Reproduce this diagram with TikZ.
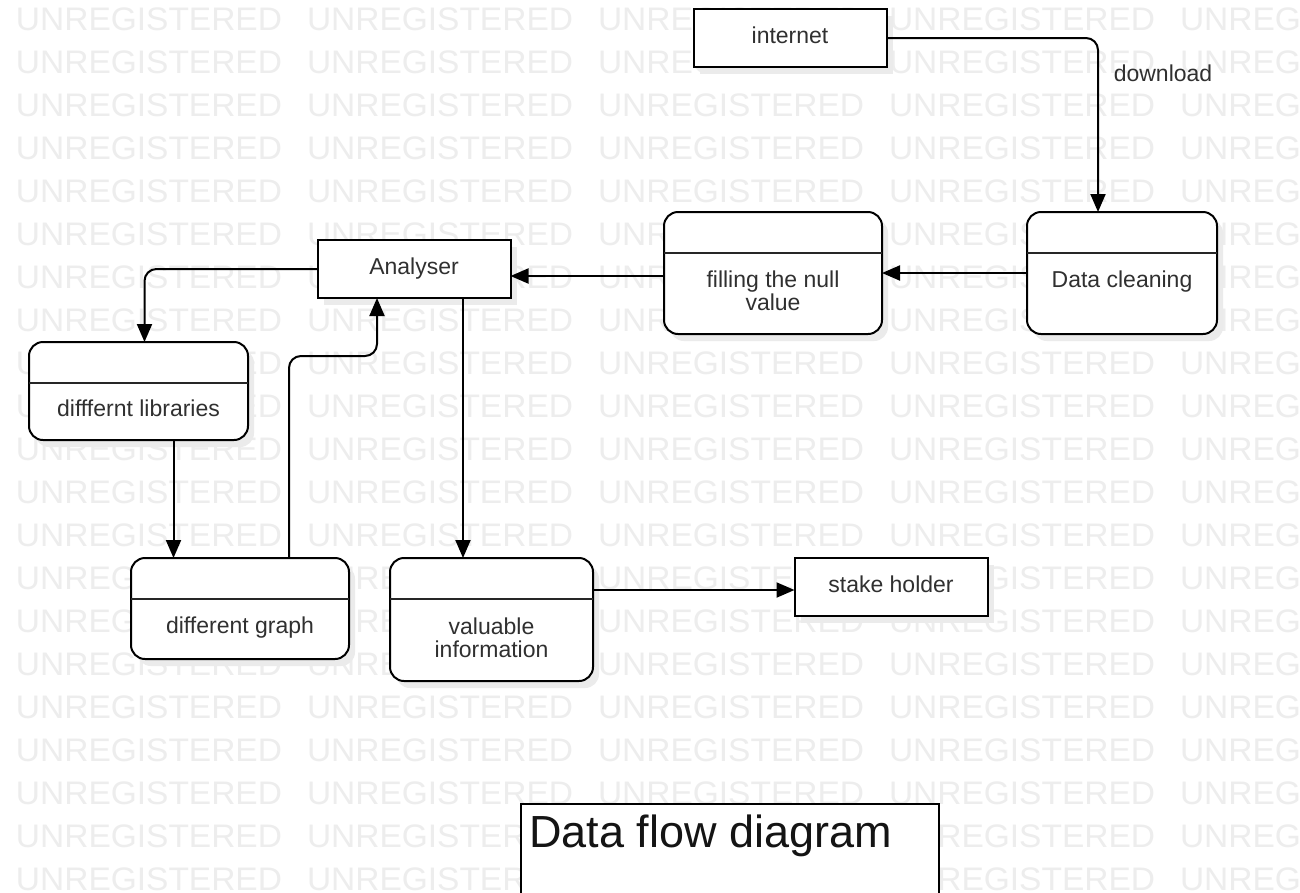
\documentclass[tikz,border=0pt]{standalone}
\usepackage{fontspec}
\setmainfont{Liberation Sans}
\usetikzlibrary{arrows.meta,shadows}
\definecolor{wm}{HTML}{EDEDED}
\definecolor{txt}{HTML}{303030}
\tikzset{
  every node/.style={inner sep=0pt, outer sep=0pt},
  boxline/.style={draw=black, line width=2pt, fill=white},
  shade/.style={drop shadow={shadow xshift=6pt, shadow yshift=-7pt, fill=black!8, opacity=1}},
  proc/.style={boxline, rounded corners=14pt, shade, anchor=north west},
  ent/.style={boxline, shade, minimum width=193pt, minimum height=58pt, text=txt,
    font=\fontsize{23}{23}\selectfont, text height=17pt, text depth=6pt},
  lbl/.style={text=txt, font=\fontsize{23}{23}\selectfont, align=center, anchor=base},
  divline/.style={line width=2pt, draw=black!85},
  conn/.style={line width=2pt, rounded corners=12pt},
  arr/.style={conn, -{Triangle[length=18pt,width=15pt]}},
  wmtext/.style={text=wm, font=\fontsize{31}{31}\selectfont, xscale=1.08, yscale=1.05, anchor=base west},
}
\begin{document}
\begin{tikzpicture}[x=1pt,y=-1pt]
\useasboundingbox (0,0) rectangle (1300,892);
\fill[white] (0,0) rectangle (1300,892);
% watermark
\foreach \r in {0,...,20}{
  \foreach \c in {0,...,4}{
    \node[wmtext] (wm-\r-\c) at ({16+291*\c},{30+43*\r}) {UNREGISTERED};
  }
}
% entities
\node[ent] (inet) at (790,38) {internet};
\node[ent] (ana) at (414,269) {Analyser};
\node[ent] (stake) at (891,587) {stake holder};
% processes
\node[proc, minimum width=190pt, minimum height=122pt] (dc) at (1027,212) {};
\node[proc, minimum width=218pt, minimum height=122pt] (fill) at (664,212) {};
\node[proc, minimum width=219pt, minimum height=98pt] (lib) at (29,342) {};
\node[proc, minimum width=218pt, minimum height=101pt] (graph) at (131,558) {};
\node[proc, minimum width=203pt, minimum height=123pt] (val) at (390,558) {};
\foreach \p in {dc,fill,lib,graph,val}{
  \draw[divline] ([yshift=-41pt]\p.north west) -- ([yshift=-41pt]\p.north east);
}
\node[lbl] (dc-t) at ([yshift=-75pt]dc.north) {Data cleaning};
\node[lbl] (fill-t) at ([yshift=-98pt]fill.north) {filling the null\\value};
\node[lbl] (lib-t) at ([yshift=-74pt]lib.north) {difffernt libraries};
\node[lbl] (graph-t) at ([yshift=-75pt]graph.north) {different graph};
\node[lbl] (val-t) at ([yshift=-99pt]val.north) {valuable\\information};
% title
\node[draw=black, line width=1.5pt, fill=white, minimum width=418pt, minimum height=110pt, anchor=north west] (titlebox) at (521,804) {};
\node[anchor=base west, font=\fontsize{45}{45}\selectfont, text=black!92] (title) at ([xshift=8pt,yshift=-43pt]titlebox.north west) {Data flow diagram};
% connectors
\draw[arr] (inet.east) -| ([xshift=-24pt]dc.north);
\node[lbl] (dl) at (1163,81) {download};
\draw[arr] (dc.west) -- (fill.east);
\draw[arr] ([yshift=-3pt]fill.west) -- ([yshift=-3pt]fill.west -| ana.east);
\draw[arr] (ana.west) -| ([xshift=6pt]lib.north);
\draw[arr] ([xshift=35pt]lib.south) -- ([xshift=35pt]lib.south |- graph.north);
\draw[arr] ([xshift=49pt]graph.north) -- ++(0,-202) -| ([xshift=-37pt]ana.south);
\draw[arr] ([xshift=49pt]ana.south) -- ([xshift=49pt]ana.south |- val.north);
\draw[arr] ([yshift=-3pt]stake.west -| val.east) -- ([yshift=-3pt]stake.west);
\end{tikzpicture}
\end{document}
